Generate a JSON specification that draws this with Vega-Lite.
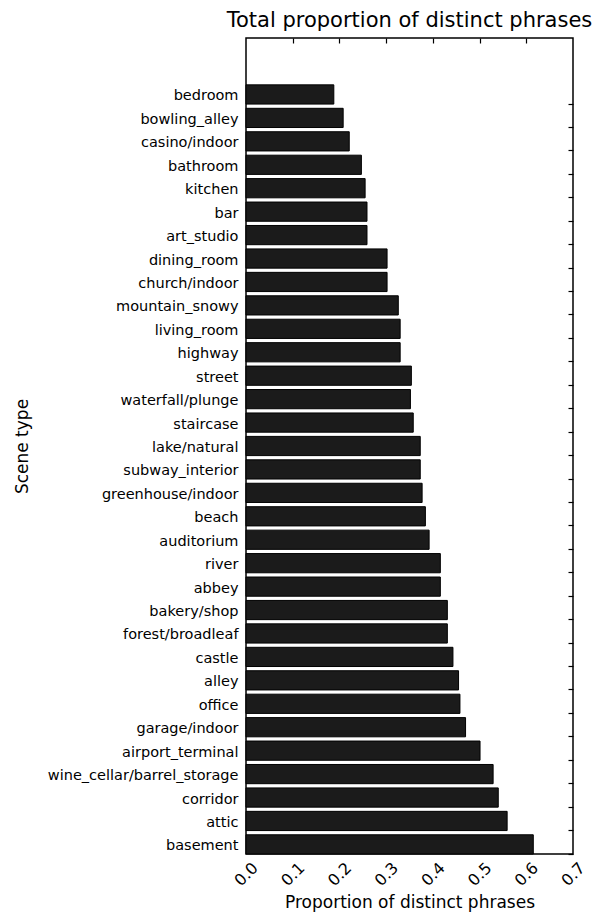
{
  "$schema": "https://vega.github.io/schema/vega-lite/v6.json",
  "width": 327,
  "height": 816,
  "autosize": {"type": "none"},
  "padding": {"left": 246, "top": 38, "right": 30, "bottom": 67},
  "title": {"text": "Total proportion of distinct phrases", "fontSize": 21, "font": "DejaVu Sans", "fontWeight": "normal", "color": "#000", "baseline": "alphabetic", "offset": -11, "anchor": "middle"},
  "config": {
    "view": {"stroke": "#000", "strokeWidth": 1.5},
    "axis": {"labelFont": "DejaVu Sans", "titleFont": "DejaVu Sans", "labelColor": "#000", "titleColor": "#000", "titleFontWeight": "normal", "domain": false, "grid": false}
  },
  "data": {"values": [
    {"scene": "bedroom", "proportion": 0.188},
    {"scene": "bowling_alley", "proportion": 0.208},
    {"scene": "casino/indoor", "proportion": 0.221},
    {"scene": "bathroom", "proportion": 0.247},
    {"scene": "kitchen", "proportion": 0.255},
    {"scene": "bar", "proportion": 0.259},
    {"scene": "art_studio", "proportion": 0.259},
    {"scene": "dining_room", "proportion": 0.302},
    {"scene": "church/indoor", "proportion": 0.302},
    {"scene": "mountain_snowy", "proportion": 0.326},
    {"scene": "living_room", "proportion": 0.330},
    {"scene": "highway", "proportion": 0.330},
    {"scene": "street", "proportion": 0.354},
    {"scene": "waterfall/plunge", "proportion": 0.352},
    {"scene": "staircase", "proportion": 0.358},
    {"scene": "lake/natural", "proportion": 0.373},
    {"scene": "subway_interior", "proportion": 0.373},
    {"scene": "greenhouse/indoor", "proportion": 0.377},
    {"scene": "beach", "proportion": 0.384},
    {"scene": "auditorium", "proportion": 0.392},
    {"scene": "river", "proportion": 0.416},
    {"scene": "abbey", "proportion": 0.416},
    {"scene": "bakery/shop", "proportion": 0.431},
    {"scene": "forest/broadleaf", "proportion": 0.431},
    {"scene": "castle", "proportion": 0.443},
    {"scene": "alley", "proportion": 0.455},
    {"scene": "office", "proportion": 0.458},
    {"scene": "garage/indoor", "proportion": 0.470},
    {"scene": "airport_terminal", "proportion": 0.501},
    {"scene": "wine_cellar/barrel_storage", "proportion": 0.529},
    {"scene": "corridor", "proportion": 0.540},
    {"scene": "attic", "proportion": 0.559},
    {"scene": "basement", "proportion": 0.615}
  ]},
  "layer": [
    {
      "mark": {"type": "bar", "fill": "#1b1b1b", "stroke": "#000", "strokeWidth": 1},
      "encoding": {
        "y": {"field": "scene", "type": "nominal", "sort": null,
          "scale": {"paddingInner": 0.18, "paddingOuter": 1.08, "align": 1},
          "axis": {"title": "Scene type", "ticks": false, "labelPadding": 8, "labelFontSize": 14.5, "labelOffset": 2, "labelLimit": 400, "titleFontSize": 17, "titlePadding": 16}},
        "x": {"field": "proportion", "type": "quantitative",
          "scale": {"domain": [0, 0.7], "nice": false},
          "axis": {"title": "Proportion of distinct phrases", "values": [0, 0.1, 0.2, 0.3, 0.4, 0.5, 0.6, 0.7], "format": ".1f", "labelAngle": -45, "labelAlign": "center", "labelBaseline": "middle", "labelPadding": 20, "labelFlush": false, "labelOverlap": false, "ticks": false, "labelFontSize": 16, "titleFontSize": 17, "titlePadding": 6}}
      }
    },
    {
      "mark": {"type": "bar", "opacity": 0},
      "encoding": {
        "y": {"field": "scene", "type": "nominal", "sort": null,
          "axis": {"orient": "right", "labels": false, "title": null, "ticks": true, "tickSize": 5, "offset": -5, "bandPosition": 1, "tickColor": "#000", "tickWidth": 1.2}},
        "x": {"field": "proportion", "type": "quantitative",
          "axis": {"orient": "top", "labels": false, "title": null, "ticks": true, "tickSize": 5, "offset": -5, "values": [0.1, 0.2, 0.3, 0.4, 0.5, 0.6], "tickColor": "#000", "tickWidth": 1.2}}
      }
    }
  ],
  "resolve": {"axis": {"x": "independent", "y": "independent"}}
}
